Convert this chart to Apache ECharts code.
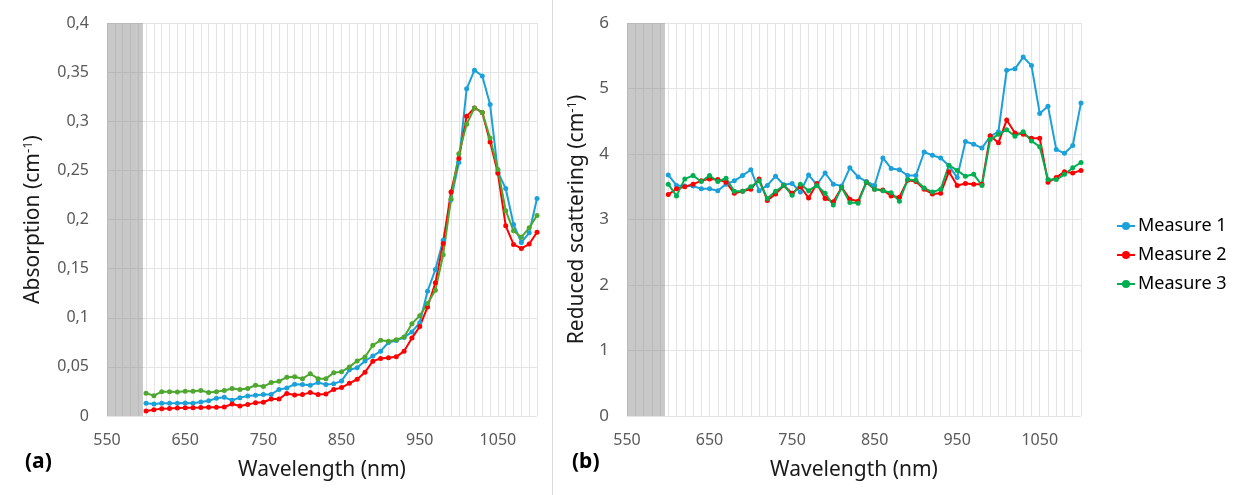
<!DOCTYPE html>
<html>
<head>
<meta charset="utf-8">
<script src="https://cdn.jsdelivr.net/npm/echarts@6/dist/echarts.min.js"></script>
<style>html,body{margin:0;padding:0;background:#fff;}#c{width:1247px;height:495px;}</style>
</head>
<body>
<div id="c"></div>
<script>
const wavelengths = [600,610,620,630,640,650,660,670,680,690,700,710,720,730,740,750,760,770,780,790,800,810,820,830,840,850,860,870,880,890,900,910,920,930,940,950,960,970,980,990,1000,1010,1020,1030,1040,1050,1060,1070,1080,1090,1100];

const absM1 = [0.0129,0.0122,0.0129,0.013,0.013,0.0133,0.013,0.0143,0.0156,0.018,0.019,0.016,0.0187,0.0204,0.021,0.0218,0.022,0.027,0.0286,0.0323,0.032,0.0313,0.034,0.032,0.0327,0.0357,0.047,0.049,0.056,0.061,0.066,0.0748,0.0769,0.080,0.0856,0.095,0.127,0.149,0.179,0.220,0.258,0.333,0.352,0.346,0.317,0.2485,0.2315,0.195,0.1766,0.1865,0.2214];
const absM2 = [0.0051,0.0064,0.0075,0.0077,0.0082,0.0083,0.0085,0.0086,0.0088,0.0089,0.0092,0.0122,0.0102,0.0116,0.0136,0.014,0.0173,0.0173,0.023,0.0214,0.022,0.0238,0.0218,0.0224,0.027,0.0289,0.0333,0.0374,0.0445,0.0558,0.0585,0.0592,0.0602,0.066,0.0793,0.091,0.111,0.1356,0.1756,0.228,0.262,0.305,0.3136,0.309,0.279,0.247,0.1936,0.1746,0.1705,0.175,0.187];
const absM3 = [0.0231,0.0207,0.0248,0.0248,0.0245,0.0252,0.0252,0.0259,0.024,0.0248,0.026,0.0279,0.027,0.028,0.0313,0.030,0.034,0.0353,0.0395,0.040,0.038,0.043,0.038,0.038,0.044,0.045,0.050,0.056,0.060,0.072,0.077,0.076,0.0776,0.0805,0.094,0.102,0.1146,0.128,0.164,0.221,0.267,0.297,0.3136,0.309,0.283,0.251,0.209,0.1885,0.182,0.1915,0.204];

const scatM1 = [3.68,3.52,3.51,3.51,3.47,3.47,3.44,3.54,3.59,3.67,3.76,3.44,3.52,3.66,3.53,3.55,3.42,3.68,3.53,3.71,3.54,3.51,3.79,3.65,3.58,3.52,3.94,3.78,3.76,3.67,3.67,4.03,3.98,3.94,3.82,3.64,4.19,4.15,4.09,4.27,4.34,5.28,5.30,5.48,5.35,4.62,4.73,4.07,4.01,4.13,4.78];
const scatM2 = [3.38,3.47,3.50,3.54,3.59,3.62,3.61,3.57,3.40,3.43,3.46,3.62,3.29,3.39,3.52,3.40,3.50,3.33,3.55,3.32,3.27,3.49,3.31,3.28,3.57,3.46,3.45,3.36,3.34,3.60,3.58,3.46,3.39,3.40,3.73,3.52,3.55,3.54,3.54,4.28,4.17,4.52,4.32,4.30,4.24,4.24,3.57,3.64,3.73,3.71,3.75];
const scatM3 = [3.54,3.36,3.62,3.67,3.58,3.67,3.58,3.63,3.43,3.43,3.50,3.59,3.32,3.43,3.52,3.37,3.54,3.44,3.52,3.40,3.22,3.49,3.26,3.25,3.57,3.46,3.44,3.41,3.28,3.61,3.60,3.48,3.42,3.46,3.83,3.75,3.66,3.69,3.52,4.22,4.30,4.37,4.27,4.34,4.20,4.11,3.61,3.61,3.69,3.79,3.87];

const seriesNames = ['Measure 1','Measure 2','Measure 3'];
const shadedRange = [550, 596];

const C_BLUE = '#1BA1D9', C_RED = '#FF0000', C_GREEN_A = '#4EA72E', C_GREEN_B = '#00B050';
const GRID_C = '#e4e4e4';
const FONT = "'Noto Sans', 'Open Sans', sans-serif";

function pairs(vals){ return wavelengths.map((w,i)=>[w, vals[i]]); }

function xAxisDef(gridIndex){
  return {
    type:'value', gridIndex, min:550, max:1100, interval:50,
    name:'Wavelength (nm)', nameLocation:'middle', nameGap:44,
    nameTextStyle:{fontSize:21, color:'#1a1a1a', fontFamily:FONT},
    axisLine:{show:false}, axisTick:{show:false},
    axisLabel:{margin:16, fontSize:16, color:'#595959', fontFamily:FONT,
      formatter:v => ((v-550)%100===0 ? String(v) : '')},
    splitLine:{show:true, lineStyle:{color:GRID_C, width:1}},
    minorTick:{show:false, splitNumber:5},
    minorSplitLine:{show:true, lineStyle:{color:GRID_C, width:1}}
  };
}

function lineSeries(name, vals, color, xi, withArea){
  const s = {
    name, type:'line', xAxisIndex:xi, yAxisIndex:xi, data:pairs(vals),
    symbol:'circle', symbolSize:5, showSymbol:true,
    lineStyle:{color, width:2}, itemStyle:{color},
    emphasis:{disabled:true}, animation:false, z:3
  };
  if (withArea){
    s.markArea = {silent:true, itemStyle:{color:'rgba(128,128,128,0.43)'},
      data:[[{xAxis:shadedRange[0]},{xAxis:shadedRange[1]}]]};
  }
  return s;
}

const chart = echarts.init(document.getElementById('c'), null, {renderer:'canvas'});
chart.setOption({
  animation:false,
  backgroundColor:'#fff',
  grid:[
    {left:107, right:710, top:23, bottom:79, containLabel:false},
    {left:627, right:166, top:23, bottom:79, containLabel:false}
  ],
  xAxis:[xAxisDef(0), xAxisDef(1)],
  yAxis:[
    {type:'value', gridIndex:0, min:0, max:0.4, interval:0.05,
     name:'{t|Absorption (cm}{s|-1}{t|)}', nameLocation:'middle', nameGap:62,
     nameTextStyle:{rich:{t:{fontSize:21, color:'#1a1a1a', fontFamily:FONT}, s:{fontSize:13, color:'#1a1a1a', fontFamily:FONT, verticalAlign:'top', padding:[0,0,10,0]}}},
     axisLine:{show:false}, axisTick:{show:false},
     axisLabel:{margin:18, fontSize:16, color:'#595959', fontFamily:FONT,
       formatter:v => String(Math.round(v*100)/100).replace('.', ',')},
     splitLine:{show:true, lineStyle:{color:GRID_C, width:1}}},
    {type:'value', gridIndex:1, min:0, max:6, interval:1,
     name:'{t|Reduced scattering (cm}{s|-1}{t|)}', nameLocation:'middle', nameGap:38,
     nameTextStyle:{rich:{t:{fontSize:21, color:'#1a1a1a', fontFamily:FONT}, s:{fontSize:13, color:'#1a1a1a', fontFamily:FONT, verticalAlign:'top', padding:[0,0,10,0]}}},
     axisLine:{show:false}, axisTick:{show:false},
     axisLabel:{margin:18, fontSize:17, color:'#595959', fontFamily:FONT},
     splitLine:{show:true, lineStyle:{color:GRID_C, width:1}}}
  ],
  legend:{
    orient:'vertical', left:1111, top:211, itemGap:9, itemWidth:18, itemHeight:10,
    textStyle:{fontSize:18, color:'#000', fontFamily:FONT, lineHeight:20, padding:[0,0,0,-2]},
    data:[
      {name:seriesNames[0], itemStyle:{color:C_BLUE}, lineStyle:{color:C_BLUE}},
      {name:seriesNames[1], itemStyle:{color:C_RED}, lineStyle:{color:C_RED}},
      {name:seriesNames[2], itemStyle:{color:C_GREEN_B}, lineStyle:{color:C_GREEN_B}}
    ],
    selectedMode:false
  },
  graphic:[
    {type:'text', left:25, top:452, style:{text:'(a)', font:"bold 21px 'Noto Sans', sans-serif", fill:'#000'}},
    {type:'text', left:572, top:452, style:{text:'(b)', font:"bold 21px 'Noto Sans', sans-serif", fill:'#000'}},
    {type:'line', shape:{x1:552.5, y1:0, x2:552.5, y2:495}, style:{stroke:'#d9d9d9', lineWidth:1}, silent:true}
  ],
  series:[
    lineSeries(seriesNames[0], absM1, C_BLUE, 0, true),
    lineSeries(seriesNames[1], absM2, C_RED, 0, false),
    lineSeries(seriesNames[2], absM3, C_GREEN_A, 0, false),
    lineSeries(seriesNames[0], scatM1, C_BLUE, 1, true),
    lineSeries(seriesNames[1], scatM2, C_RED, 1, false),
    lineSeries(seriesNames[2], scatM3, C_GREEN_B, 1, false)
  ]
});
</script>
</body>
</html>
